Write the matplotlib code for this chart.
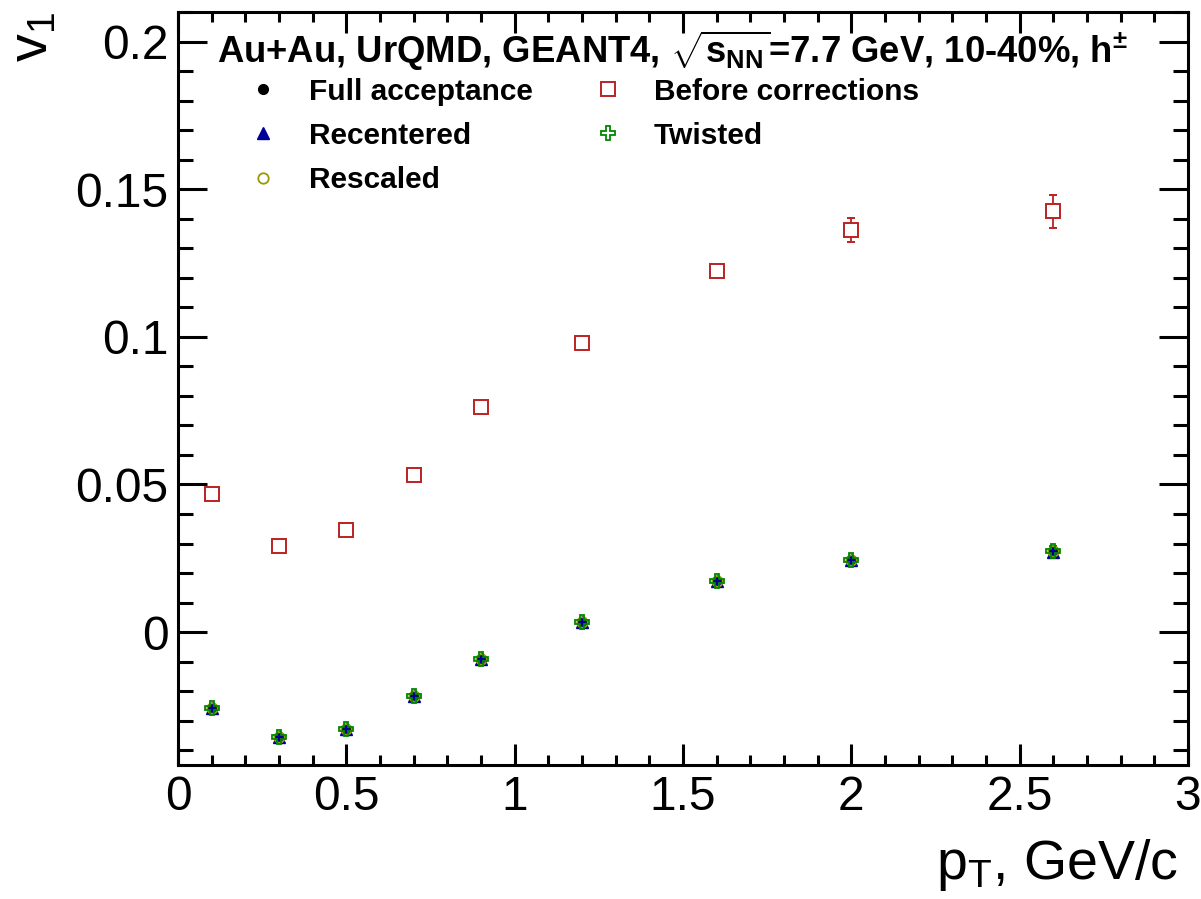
import matplotlib
matplotlib.use("Agg")
import matplotlib.pyplot as plt
from matplotlib.ticker import MultipleLocator, FuncFormatter

plt.rcParams["font.family"] = ["Liberation Sans", "DejaVu Sans"]
plt.rcParams["mathtext.fontset"] = "custom"
plt.rcParams["mathtext.rm"] = "Liberation Sans"
plt.rcParams["mathtext.it"] = "Liberation Sans:italic"
plt.rcParams["mathtext.bf"] = "Liberation Sans:bold"

# data
pt = [0.1, 0.3, 0.5, 0.7, 0.9, 1.2, 1.6, 2.0, 2.6]
v1_full = [-0.0257, -0.0355, -0.0328, -0.0217, -0.0091, 0.0034, 0.0173, 0.0244, 0.0274]
v1_recentered = [-0.0258, -0.0356, -0.0329, -0.0218, -0.0092, 0.0033, 0.0172, 0.0243, 0.0273]
v1_rescaled = [-0.0257, -0.0355, -0.0328, -0.0217, -0.0091, 0.0034, 0.0173, 0.0244, 0.0274]
v1_twisted = [-0.0256, -0.0354, -0.0327, -0.0216, -0.0090, 0.0035, 0.0174, 0.0245, 0.0276]
err_corr = [0.0006, 0.0006, 0.0006, 0.0006, 0.0007, 0.0007, 0.0008, 0.0010, 0.0016]
v1_before = [0.0467, 0.0291, 0.0345, 0.0531, 0.0761, 0.0978, 0.1222, 0.1362, 0.1425]
err_before = [0.0008, 0.0008, 0.0008, 0.0009, 0.0010, 0.0012, 0.0018, 0.0040, 0.0055]

fig = plt.figure(figsize=(12.01, 8.99), dpi=100)
ax = fig.add_axes([178 / 1201, 1 - 765 / 899, 1010 / 1201, 753 / 899])
fig.patch.set_facecolor("white")

common = dict(linestyle="none", capsize=3, elinewidth=1.3, capthick=1.3)
series = []
series.append(ax.errorbar(pt, v1_full, yerr=err_corr, marker="o", ms=7, color="black",
                          label="Full acceptance", **common))
series.append(ax.errorbar(pt, v1_recentered, yerr=err_corr, marker="^", ms=8, color="#000099",
                          label="Recentered", **common))
series.append(ax.errorbar(pt, v1_rescaled, yerr=err_corr, marker="o", ms=7.5, color="#999900",
                          mfc="none", mew=1.3, label="Rescaled", **common))
series.append(ax.errorbar(pt, v1_before, yerr=err_before, marker="s", ms=9.5, color="#bb2222",
                          mfc="white", mew=1.4, label="Before corrections", **common))
series.append(ax.errorbar(pt, v1_twisted, yerr=err_corr, marker="P", ms=10.5, color="#008800",
                          mfc="none", mew=1.3, label="Twisted", **common))

ax.set_xlim(0, 3)
ax.set_ylim(-0.045, 0.21)

ax.xaxis.set_major_locator(MultipleLocator(0.5))
ax.xaxis.set_minor_locator(MultipleLocator(0.1))
ax.yaxis.set_major_locator(MultipleLocator(0.05))
ax.yaxis.set_minor_locator(MultipleLocator(0.01))
fmt = FuncFormatter(lambda v, p: "%g" % round(v, 6))
ax.xaxis.set_major_formatter(fmt)
ax.yaxis.set_major_formatter(fmt)

ax.tick_params(axis="both", which="both", direction="in", top=True, right=True,
               width=2.2, labelsize=34.5)
ax.tick_params(axis="x", which="major", length=15, pad=7)
ax.tick_params(axis="x", which="minor", length=7.5)
ax.tick_params(axis="y", which="major", length=21, pad=7)
ax.tick_params(axis="y", which="minor", length=10.5)
for sp in ax.spines.values():
    sp.set_linewidth(2.2)

ax.set_xlabel(r"$\mathrm{p_{T}}$, GeV/c", fontsize=40, loc="right")
ax.xaxis.set_label_coords(0.99, -0.095)
ax.set_ylabel(r"$\mathrm{v_{1}}$", fontsize=40, loc="top")
ax.yaxis.set_label_coords(-0.118, 1.0)

ax.text(0.0386, 0.932,
        r"Au+Au, UrQMD, GEANT4, $\sqrt{\mathbf{s}_{\mathbf{NN}}}$=7.7 GeV, 10-40%, h$^{\mathbf{\pm}}$",
        transform=ax.transAxes, fontsize=26.3, fontweight="bold", va="baseline", ha="left")

handles = [s[0] for s in series]
labels = [s.get_label() for s in series]
ax.legend(handles, labels, ncol=2, loc="upper left", bbox_to_anchor=(0.0693, 0.913),
          frameon=False, prop={"weight": "bold", "size": 21.5},
          handlelength=1.0, handletextpad=1.05, columnspacing=2.0,
          labelspacing=0.55, borderpad=0, borderaxespad=0)

fig.savefig("out.png", dpi=100)
